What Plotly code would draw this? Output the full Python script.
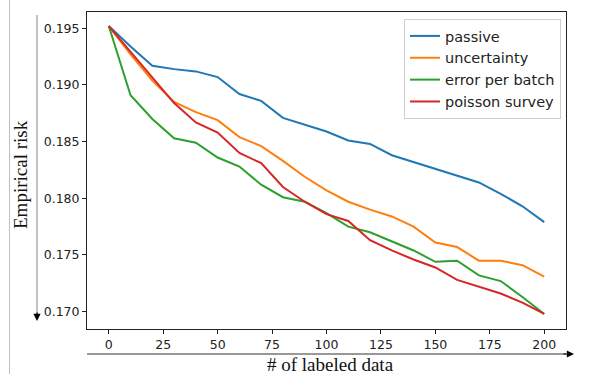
import plotly.graph_objects as go

x_labeled = [0, 10, 20, 30, 40, 50, 60, 70, 80, 90, 100, 110, 120, 130, 140, 150, 160, 170, 180, 190, 200]
passive = [0.1952, 0.1934, 0.1917, 0.1914, 0.1912, 0.1907, 0.1892, 0.1886, 0.1871, 0.1865, 0.1859,
           0.1851, 0.1848, 0.1838, 0.1832, 0.1826, 0.1820, 0.1814, 0.1804, 0.1793, 0.1779]
uncertainty = [0.1952, 0.1927, 0.1904, 0.1885, 0.1876, 0.1869, 0.1854, 0.1846, 0.1833, 0.1819, 0.1807,
               0.1797, 0.1790, 0.1784, 0.1775, 0.1761, 0.1757, 0.1745, 0.1745, 0.1741, 0.1731]
error_per_batch = [0.1952, 0.1891, 0.1870, 0.1853, 0.1849, 0.1836, 0.1828, 0.1812, 0.1801, 0.1797, 0.1787,
                   0.1775, 0.1770, 0.1762, 0.1754, 0.1744, 0.1745, 0.1732, 0.1727, 0.1713, 0.1698]
poisson_survey = [0.1952, 0.1929, 0.1906, 0.1884, 0.1867, 0.1858, 0.1840, 0.1831, 0.1810, 0.1797, 0.1786,
                  0.1780, 0.1763, 0.1754, 0.1746, 0.1739, 0.1728, 0.1722, 0.1716, 0.1708, 0.1698]

series_names = ["passive", "uncertainty", "error per batch", "poisson survey"]
series_values = [passive, uncertainty, error_per_batch, poisson_survey]
colors = ["#1f77b4", "#ff7f0e", "#2ca02c", "#d62728"]

x_ticks = [0, 25, 50, 75, 100, 125, 150, 175, 200]
y_ticks = [0.170, 0.175, 0.180, 0.185, 0.190, 0.195]
y_tick_labels = ["0.170", "0.175", "0.180", "0.185", "0.190", "0.195"]

fig = go.Figure()
for name, vals, c in zip(series_names, series_values, colors):
    fig.add_trace(go.Scatter(x=x_labeled, y=vals, mode="lines", name=name,
                             line=dict(color=c, width=2)))

# plot area in pixels: x 87..566, y 12..329
L, R, T, B = 87, 566, 12, 329
W, H = R - L, B - T
def px(xp):
    return (xp - L) / W
def py(yp):
    return (B - yp) / H

axis_common = dict(showline=True, linecolor="#222", linewidth=1, mirror=True,
                   ticks="outside", ticklen=4, tickcolor="#222", showgrid=False,
                   zeroline=False, tickfont=dict(family="DejaVu Sans", size=12.5, color="#222"))

fig.update_layout(
    width=616, height=374,
    margin=dict(l=L, r=616 - R, t=T, b=374 - B, autoexpand=False),
    paper_bgcolor="white", plot_bgcolor="white",
    xaxis=dict(range=[-10, 210], tickvals=x_ticks, **axis_common),
    yaxis=dict(range=[0.16847, 0.19644], tickvals=y_ticks, ticktext=y_tick_labels, **axis_common),
    legend=dict(x=px(561), y=py(19), xanchor="right", yanchor="top",
                bgcolor="white", bordercolor="#d0d0d0", borderwidth=1,
                font=dict(family="DejaVu Sans", size=14.5, color="#222"),
                tracegroupgap=0),
    showlegend=True,
)

shapes = [
    # left page border line
    dict(type="line", xref="paper", yref="paper", x0=px(9.5), x1=px(9.5), y0=py(374), y1=py(0),
         line=dict(color="#c0c0c0", width=1)),
    # y arrow line
    dict(type="line", xref="paper", yref="paper", x0=px(37), x1=px(37), y0=py(15), y1=py(314),
         line=dict(color="#888888", width=1)),
    # x arrow line
    dict(type="line", xref="paper", yref="paper", x0=px(87), x1=px(566), y0=py(354), y1=py(354),
         line=dict(color="#333333", width=1)),
]
fig.update_layout(shapes=shapes)

annotations = [
    dict(xref="paper", yref="paper", x=px(37), y=py(321), ax=0, ay=-10, text="", showarrow=True,
         arrowhead=2, arrowsize=1.2, arrowwidth=1.2, arrowcolor="#000"),
    dict(xref="paper", yref="paper", x=px(574), y=py(354), ax=-12, ay=0, text="", showarrow=True,
         arrowhead=2, arrowsize=1.2, arrowwidth=1.2, arrowcolor="#000"),
    dict(xref="paper", yref="paper", x=px(20), y=py(175), text="Empirical risk", showarrow=False,
         textangle=-90, font=dict(family="Liberation Serif", size=19, color="#111"),
         xanchor="center", yanchor="middle"),
    dict(xref="paper", yref="paper", x=px(330), y=py(364), text="# of labeled data", showarrow=False,
         font=dict(family="Liberation Serif", size=19, color="#111"),
         xanchor="center", yanchor="middle"),
]
fig.update_layout(annotations=annotations)

fig.write_html("out.html")
